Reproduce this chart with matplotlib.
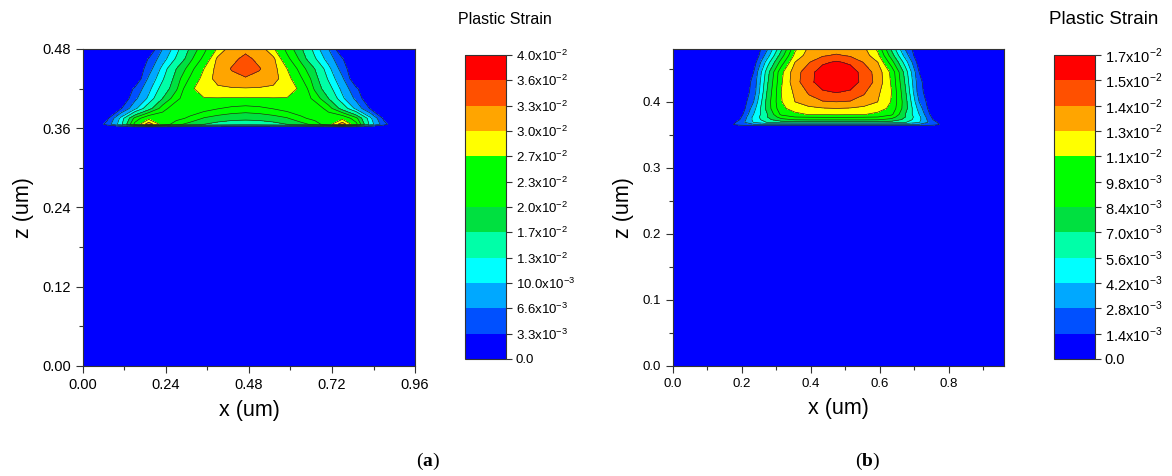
import numpy as np
import matplotlib
matplotlib.use("Agg")
import matplotlib.pyplot as plt
from matplotlib.ticker import MultipleLocator, FormatStrFormatter

plt.rcParams['font.family'] = 'Liberation Sans'
plt.rcParams['mathtext.fontset'] = 'custom'
plt.rcParams['mathtext.rm'] = 'Liberation Sans'
plt.rcParams['mathtext.bf'] = 'Liberation Serif:bold'

# band colours, same for both colorbars (bottom -> top)
band_colors = ['#0000FF', '#0050FF', '#00A8FF', '#00FFFF', '#00FFA8', '#00E040',
               '#00FF00', '#00FF00', '#FFFF00', '#FFA500', '#FF5000', '#FF0000']

# ---- panel (a): plastic strain, in units of 1e-2 ----
x_a = [0.0, 0.03, 0.07, 0.11, 0.15, 0.19, 0.23, 0.27, 0.31, 0.35, 0.39, 0.43, 0.47,
       0.51, 0.55, 0.59, 0.63, 0.67, 0.71, 0.75, 0.79, 0.83, 0.87, 0.91, 0.96]
z_a = [0.0, 0.3615, 0.366, 0.375, 0.39, 0.405, 0.42, 0.435, 0.45, 0.465, 0.48]
strain_a = [
    [0] * 25,
    [0] * 25,
    [0, 0, 0.45, 1.2, 2.4, 3.2, 2.55, 2.1, 1.88, 1.7, 1.6, 1.53, 1.5, 1.53, 1.6, 1.7, 1.88, 2.1, 2.55, 3.2, 2.4, 1.2, 0.45, 0, 0],
    [0, 0, 0.25, 1.1, 2.1, 2.6, 2.55, 2.42, 2.22, 1.97, 1.86, 1.8, 1.78, 1.8, 1.86, 1.97, 2.22, 2.42, 2.55, 2.6, 2.1, 1.1, 0.25, 0, 0],
    [0, 0, 0, 0.3, 0.9, 1.55, 2.15, 2.55, 2.55, 2.45, 2.32, 2.22, 2.17, 2.22, 2.32, 2.45, 2.55, 2.55, 2.15, 1.55, 0.9, 0.3, 0, 0, 0],
    [0, 0, 0, 0, 0.57, 1.07, 1.7, 2.2, 2.58, 2.68, 2.68, 2.67, 2.66, 2.67, 2.68, 2.68, 2.58, 2.2, 1.7, 1.07, 0.57, 0, 0, 0, 0],
    [0, 0, 0, 0, 0.38, 0.9, 1.45, 1.95, 2.62, 2.9, 2.95, 2.97, 2.98, 2.97, 2.95, 2.9, 2.62, 1.95, 1.45, 0.9, 0.38, 0, 0, 0, 0],
    [0, 0, 0, 0, 0, 0.72, 1.25, 1.85, 2.35, 2.85, 3.1, 3.22, 3.27, 3.22, 3.1, 2.85, 2.35, 1.85, 1.25, 0.72, 0, 0, 0, 0, 0],
    [0, 0, 0, 0, 0, 0.5, 1.1, 1.7, 2.15, 2.7, 3.12, 3.32, 3.45, 3.32, 3.12, 2.7, 2.15, 1.7, 1.1, 0.5, 0, 0, 0, 0, 0],
    [0, 0, 0, 0, 0, 0.35, 0.85, 1.35, 1.92, 2.4, 3.08, 3.22, 3.38, 3.22, 3.08, 2.4, 1.92, 1.35, 0.85, 0.35, 0, 0, 0, 0, 0],
    [0, 0, 0, 0, 0, 0, 0.66, 1.18, 1.76, 2.2, 2.75, 3.17, 3.22, 3.17, 2.75, 2.2, 1.76, 1.18, 0.66, 0, 0, 0, 0, 0, 0],
]
levels_a = [0, 0.33, 0.66, 1.0, 1.3, 1.7, 2.0, 2.3, 2.7, 3.0, 3.3, 3.6, 4.0]
labels_a = ["0.0", "3.3x10$^{-3}$", "6.6x10$^{-3}$", "10.0x10$^{-3}$", "1.3x10$^{-2}$",
            "1.7x10$^{-2}$", "2.0x10$^{-2}$", "2.3x10$^{-2}$", "2.7x10$^{-2}$",
            "3.0x10$^{-2}$", "3.3x10$^{-2}$", "3.6x10$^{-2}$", "4.0x10$^{-2}$"]

# ---- panel (b): plastic strain, in units of 1e-3 ----
x_b = [0.0, 0.114, 0.154, 0.194, 0.234, 0.274, 0.314, 0.354, 0.394, 0.434, 0.474,
       0.514, 0.554, 0.594, 0.634, 0.674, 0.714, 0.754, 0.794, 0.834, 0.96]
z_b = [0.0, 0.3625, 0.3655, 0.369, 0.373, 0.377, 0.381, 0.39, 0.40, 0.415, 0.43,
       0.445, 0.46, 0.47, 0.48]
strain_b = [
    [0] * 21,
    [0] * 21,
    [0, 0, 0.7, 2.0, 2.6, 2.9, 3.0, 3.0, 3.0, 3.0, 3.0, 3.0, 3.0, 3.0, 3.0, 2.9, 2.6, 2.0, 0.7, 0, 0],
    [0, 0, 0, 2.0, 4.3, 5.7, 6.3, 6.5, 6.5, 6.5, 6.5, 6.5, 6.5, 6.5, 6.3, 5.7, 4.3, 2.0, 0, 0, 0],
    [0, 0, 0, 1.4, 4.6, 6.6, 8.0, 8.5, 8.6, 8.6, 8.6, 8.6, 8.6, 8.5, 8.0, 6.6, 4.6, 1.4, 0, 0, 0],
    [0, 0, 0, 1.0, 4.6, 7.0, 9.0, 9.8, 9.9, 9.95, 10.0, 9.95, 9.9, 9.8, 9.0, 7.0, 4.6, 1.0, 0, 0, 0],
    [0, 0, 0, 0.6, 4.2, 7.0, 10.1, 10.8, 11.28, 11.35, 11.4, 11.35, 11.28, 10.8, 10.1, 7.0, 4.2, 0.6, 0, 0, 0],
    [0, 0, 0, 0, 3.6, 7.6, 10.8, 11.9, 12.2, 12.5, 12.6, 12.5, 12.2, 11.9, 10.8, 7.6, 3.6, 0, 0, 0, 0],
    [0, 0, 0, 0, 2.8, 7.6, 11.1, 12.6, 13.5, 13.9, 14.0, 13.9, 13.5, 12.6, 11.1, 7.6, 2.8, 0, 0, 0, 0],
    [0, 0, 0, 0, 2.0, 7.2, 11.2, 12.9, 14.2, 15.2, 15.5, 15.2, 14.2, 12.9, 11.2, 7.2, 2.0, 0, 0, 0, 0],
    [0, 0, 0, 0, 1.8, 6.8, 11.0, 13.5, 14.9, 16.25, 16.7, 16.25, 14.9, 13.5, 11.0, 6.8, 1.8, 0, 0, 0, 0],
    [0, 0, 0, 0, 1.4, 6.4, 10.8, 13.4, 14.8, 16.2, 16.7, 16.2, 14.8, 13.4, 10.8, 6.4, 1.4, 0, 0, 0, 0],
    [0, 0, 0, 0, 0.6, 4.9, 9.0, 12.6, 13.9, 15.1, 15.6, 15.1, 13.9, 12.6, 9.0, 4.9, 0.6, 0, 0, 0, 0],
    [0, 0, 0, 0, 0, 3.6, 7.7, 11.6, 13.3, 13.85, 14.2, 13.85, 13.3, 11.6, 7.7, 3.6, 0, 0, 0, 0, 0],
    [0, 0, 0, 0, 0, 2.7, 6.7, 10.9, 12.9, 13.2, 13.3, 13.2, 12.9, 10.9, 6.7, 2.7, 0, 0, 0, 0, 0],
]
levels_b = [0, 1.4, 2.8, 4.2, 5.6, 7.0, 8.4, 9.8, 11.2, 12.6, 14.0, 15.4, 16.8]
labels_b = ["0.0", "1.4x10$^{-3}$", "2.8x10$^{-3}$", "4.2x10$^{-3}$", "5.6x10$^{-3}$",
            "7.0x10$^{-3}$", "8.4x10$^{-3}$", "9.8x10$^{-3}$", "1.1x10$^{-2}$",
            "1.3x10$^{-2}$", "1.4x10$^{-2}$", "1.5x10$^{-2}$", "1.7x10$^{-2}$"]


def draw_panel(ax, cax, x, z, strain, levels, labels, scale, tick_fs, cb_fs):
    F = np.array(strain) * scale
    lv = np.array(levels) * scale
    ax.set_facecolor('#0000FF')
    cf = ax.contourf(x, z, F, levels=lv, colors=band_colors)
    ax.contour(x, z, F, levels=lv[1:], colors='#222222', linewidths=0.45)
    ax.set_xlim(0, 0.96)
    ax.set_ylim(0, 0.48)
    ax.tick_params(which='both', direction='out', top=False, right=False,
                   labelsize=tick_fs, color='#333333')
    ax.tick_params(which='major', length=5, width=0.8)
    ax.tick_params(which='minor', length=3, width=0.8)
    for s in ax.spines.values():
        s.set_linewidth(0.8)
        s.set_color('#333333')
    ax.set_xlabel('x (um)', fontsize=15.5, labelpad=6)
    ax.set_ylabel('z (um)', fontsize=15.5, labelpad=6)

    cb = plt.colorbar(cf, cax=cax, ticks=lv)
    cb.ax.set_yticklabels(labels, fontsize=cb_fs)
    cb.ax.tick_params(length=4, width=0.8, color='#333333', pad=3)
    cb.outline.set_linewidth(0.8)
    cb.outline.set_edgecolor('#333333')
    return cf


fig = plt.figure(figsize=(11.72, 4.76), dpi=100)

ax_a = fig.add_axes([0.0708, 0.2311, 0.2833, 0.666])
cax_a = fig.add_axes([0.3968, 0.2458, 0.035, 0.6387])
draw_panel(ax_a, cax_a, x_a, z_a, strain_a, levels_a, labels_a, 1e-2, 10.5, 9.5)
ax_a.xaxis.set_major_locator(MultipleLocator(0.24))
ax_a.xaxis.set_minor_locator(MultipleLocator(0.12))
ax_a.yaxis.set_major_locator(MultipleLocator(0.12))
ax_a.yaxis.set_minor_locator(MultipleLocator(0.06))
ax_a.xaxis.set_major_formatter(FormatStrFormatter('%.2f'))
ax_a.yaxis.set_major_formatter(FormatStrFormatter('%.2f'))
fig.text(0.4305, 0.958, 'Plastic Strain', fontsize=11.5, ha='center', va='center')

ax_b = fig.add_axes([0.5742, 0.2311, 0.2824, 0.666])
cax_b = fig.add_axes([0.8993, 0.2458, 0.035, 0.6387])
draw_panel(ax_b, cax_b, x_b, z_b, strain_b, levels_b, labels_b, 1e-3, 9.5, 10.5)
ax_b.xaxis.set_major_locator(MultipleLocator(0.2))
ax_b.xaxis.set_minor_locator(MultipleLocator(0.1))
ax_b.yaxis.set_major_locator(MultipleLocator(0.1))
ax_b.yaxis.set_minor_locator(MultipleLocator(0.05))
ax_b.xaxis.set_major_formatter(FormatStrFormatter('%.1f'))
ax_b.yaxis.set_major_formatter(FormatStrFormatter('%.1f'))
fig.text(0.942, 0.958, 'Plastic Strain', fontsize=13.5, ha='center', va='center')

fig.text(0.365, 0.03, r'($\mathbf{a}$)', family='Liberation Serif', fontsize=14,
         ha='center', va='center')
fig.text(0.7406, 0.03, r'($\mathbf{b}$)', family='Liberation Serif', fontsize=14,
         ha='center', va='center')

fig.savefig('out.png', dpi=100)
